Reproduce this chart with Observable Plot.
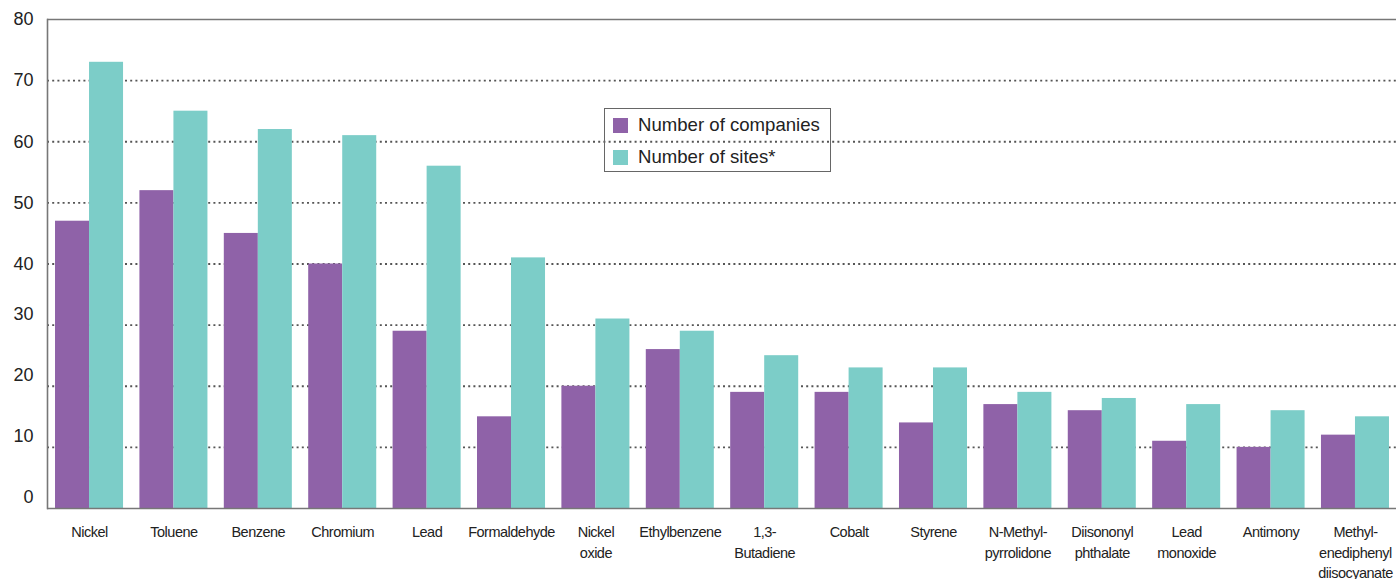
<!DOCTYPE html>
<html>
<head>
<meta charset="utf-8">
<script src="https://cdn.jsdelivr.net/npm/d3@7"></script>
<script src="https://cdn.jsdelivr.net/npm/@observablehq/plot@0.6"></script>
<style>
  html, body { margin: 0; padding: 0; background: #fff; }
  #wrap { position: relative; width: 1396px; height: 579px; overflow: hidden; }
  #legend {
    position: absolute; left: 604px; top: 108px; width: 227px; height: 64px;
    border: 1px solid #666; box-sizing: border-box;
    font-family: "Liberation Sans", Arial, sans-serif; font-size: 18.6px; color: #222;
  }
  #legend .row { position: absolute; left: 8px; display: flex; align-items: center; }
  #legend .sw { width: 15px; height: 15px; margin-right: 10px; }
</style>
</head>
<body>
<div id="wrap">
  <div id="chart"></div>
  <div id="legend"></div>
</div>
<script>
const categories = ["Nickel","Toluene","Benzene","Chromium","Lead","Formaldehyde","Nickel oxide","Ethylbenzene","1,3-Butadiene","Cobalt","Styrene","N-Methyl-pyrrolidone","Diisononyl phthalate","Lead monoxide","Antimony","Methylenediphenyl diisocyanate"];
const tickLabels = ["Nickel","Toluene","Benzene","Chromium","Lead","Formaldehyde","Nickel\noxide","Ethylbenzene","1,3-\nButadiene","Cobalt","Styrene","N-Methyl-\npyrrolidone","Diisononyl\nphthalate","Lead\nmonoxide","Antimony","Methyl-\nenediphenyl\ndiisocyanate"];
const companies = [47,52,45,40,29,15,20,26,19,19,14,17,16,11,10,12];
const sites = [73,65,62,61,56,41,31,29,25,23,23,19,18,17,16,15];
const seriesNames = ["Number of companies","Number of sites*"];
const seriesColors = ["#8f62a8","#7ccdc8"];
const yTicksUpper = [40,50,60,70,80];
const yTicksLower = [0,10,20,30];
const gridTicks = [10,20,30,40,50,60,70];

const data = categories.map((c, i) => ({cat: c, label: tickLabels[i], companies: companies[i], sites: sites[i]}));
const labelOf = new Map(categories.map((c, i) => [c, tickLabels[i]]));

const W = 1396, H = 579;
const xOpts = {domain: categories, paddingInner: 0.194, paddingOuter: 0.095, round: false};
const common = {width: W, height: H, marginLeft: 47, marginRight: -1, marginTop: 19, marginBottom: 71};

// probe for the band width
const probe = Plot.plot({...common, x: xOpts, y: {domain: [0, 80]}, marks: [Plot.barY(data, {x: "cat", y: "sites"})]});
const bw = probe.scale("x").bandwidth;

const axisStyle = {fontFamily: "'Liberation Sans', Arial, sans-serif", fontSize: 18, fill: "#222"};

const chart = Plot.plot({
  ...common,
  style: {background: "#fff", fontFamily: "'Liberation Sans', Arial, sans-serif", color: "#222", overflow: "hidden"},
  x: {...xOpts, label: null},
  y: {domain: [0, 80], label: null},
  marks: [
    Plot.ruleY(gridTicks, {stroke: "#555", strokeWidth: 1.8, strokeDasharray: "2,3.2"}),
    Plot.barY(data, {x: "cat", y: "companies", fill: seriesColors[0], insetLeft: 0, insetRight: bw / 2}),
    Plot.barY(data, {x: "cat", y: "sites", fill: seriesColors[1], insetLeft: bw / 2, insetRight: 0}),
    Plot.ruleY([0], {stroke: "#777", strokeWidth: 1.6}),
    Plot.ruleY([80], {stroke: "#777", strokeWidth: 1.6}),
    Plot.axisX({anchor: "bottom", tickSize: 0, tickPadding: 14, label: null,
      tickFormat: d => labelOf.get(d), fontFamily: "'Liberation Sans Narrow', 'Liberation Sans', Arial, sans-serif",
      fontSize: 14.5, lineHeight: 1.42, fill: "#222"}),
    Plot.axisY(yTicksUpper, {anchor: "left", tickSize: 0, tickPadding: 14, label: null, ...axisStyle}),
    Plot.axisY(yTicksLower, {anchor: "left", tickSize: 0, tickPadding: 14, label: null, dy: -11, ...axisStyle}),
    Plot.frame({anchor: "left", stroke: "#777", strokeWidth: 1.6})
  ]
});
chart.querySelectorAll("[aria-label='x-axis tick label']").forEach(el => el.setAttribute("letter-spacing", "-0.5"));
document.getElementById("chart").appendChild(chart);

const legend = document.getElementById("legend");
seriesNames.forEach((name, i) => {
  const row = document.createElement("div");
  row.className = "row";
  row.style.top = (i === 0 ? 5 : 37) + "px";
  row.innerHTML = `<span class="sw" style="background:${seriesColors[i]}"></span><span>${name}</span>`;
  legend.appendChild(row);
});
</script>
</body>
</html>
